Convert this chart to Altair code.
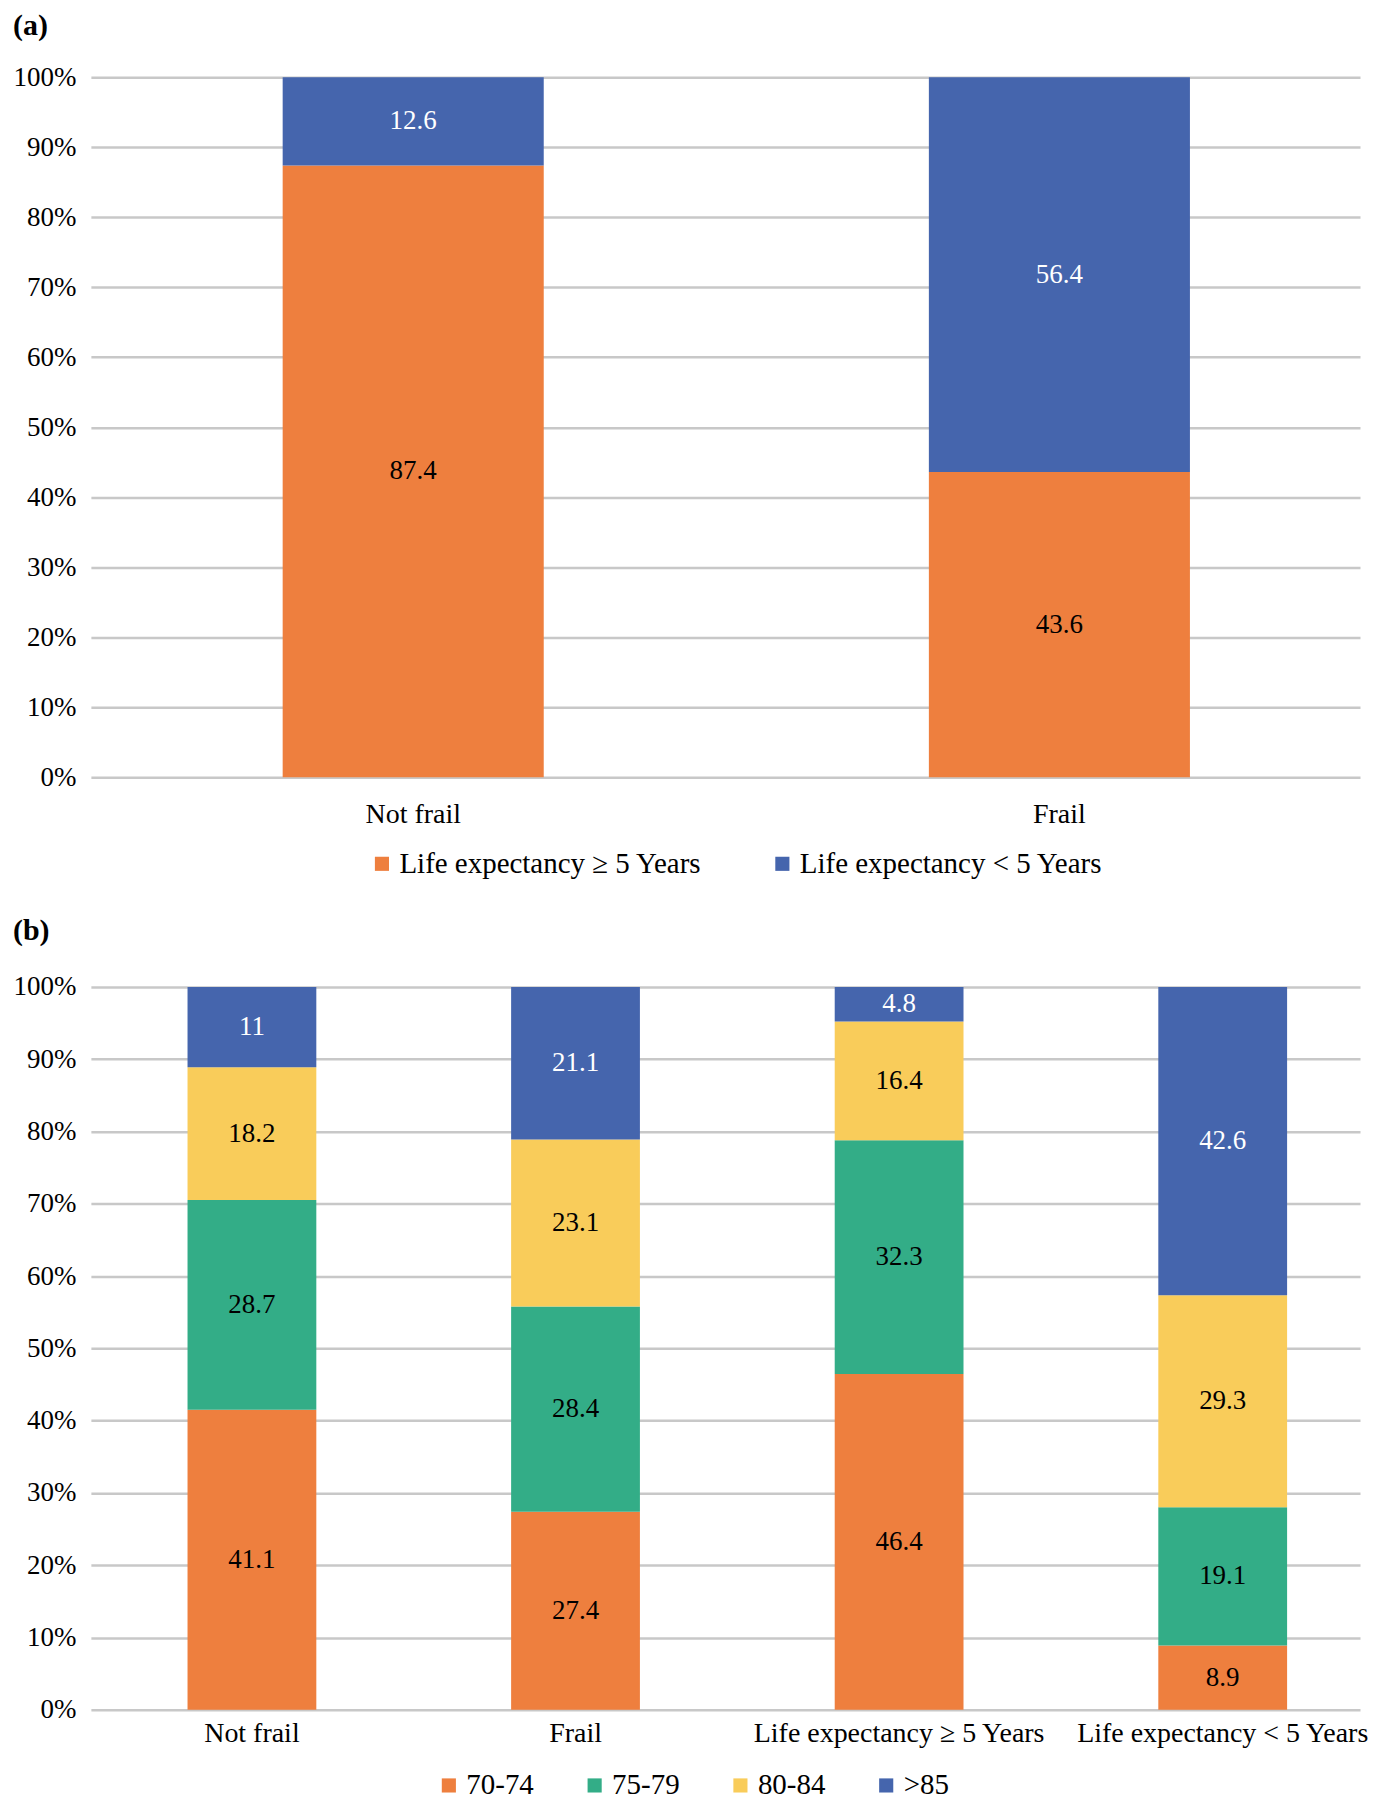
import altair as alt
import pandas as pd

FONT = "Liberation Serif"

# Panel (a)
a_categories = ["Not frail", "Frail"]
a_series = ["Life expectancy \u2265 5 Years", "Life expectancy < 5 Years"]
a_values = {
    "Life expectancy \u2265 5 Years": [87.4, 43.6],
    "Life expectancy < 5 Years": [12.6, 56.4],
}
a_colors = ["#EE7F3E", "#4565AD"]

# Panel (b)
b_categories = ["Not frail", "Frail", "Life expectancy \u2265 5 Years", "Life expectancy < 5 Years"]
b_series = ["70-74", "75-79", "80-84", ">85"]
b_values = {
    "70-74": [41.1, 27.4, 46.4, 8.9],
    "75-79": [28.7, 28.4, 32.3, 19.1],
    "80-84": [18.2, 23.1, 16.4, 29.3],
    ">85": [11, 21.1, 4.8, 42.6],
}
b_colors = ["#EE7F3E", "#33AD87", "#F9CC5A", "#4565AD"]

y_ticks = [i / 10 for i in range(11)]


def make_df(categories, series, values):
    rows = []
    for si, s in enumerate(series):
        for ci, c in enumerate(categories):
            v = values[s][ci]
            rows.append({"cat": c, "series": s, "value": v, "order": si,
                         "label": f"{v:g}"})
    return pd.DataFrame(rows)


def panel(df, categories, series, colors, title, title_offset, width, height, pad_inner,
          pad_outer, align, label_pad, legend_x, legend_y, col_pad, top_series):
    base = alt.Chart(df).transform_stack(
        stack="value", groupby=["cat"], as_=["v0", "v1"], offset="normalize",
        sort=[alt.SortField("order", order="ascending")]
    ).transform_calculate(mid="(datum.v0 + datum.v1) / 2")

    x = alt.X("cat:N", sort=categories, title=None,
              scale=alt.Scale(paddingInner=pad_inner, paddingOuter=pad_outer, align=align),
              axis=alt.Axis(labelAngle=0, domain=False, ticks=False, tickSize=0,
                            labelPadding=label_pad, labelFont=FONT, labelFontSize=28,
                            labelColor="black", grid=False, labelLimit=0,
                            labelOverlap=False))
    bars = base.mark_bar().encode(
        x=x,
        y=alt.Y("v0:Q", title=None, scale=alt.Scale(domain=[0, 1], nice=False),
                axis=alt.Axis(values=y_ticks, format=".0%", grid=True, gridColor="#C8C8C8",
                              gridWidth=2.5, domain=False, ticks=False, tickSize=0,
                              labelPadding=15, labelFont=FONT, labelFontSize=27,
                              labelColor="black")),
        y2="v1:Q",
        color=alt.Color("series:N", sort=series,
                        scale=alt.Scale(domain=series, range=colors),
                        legend=alt.Legend(title=None, orient="none", direction="horizontal",
                                          legendX=legend_x, legendY=legend_y,
                                          symbolType="square", symbolSize=200,
                                          symbolStrokeWidth=0, labelFont=FONT,
                                          labelFontSize=29, labelColor="black",
                                          labelOffset=3, columnPadding=col_pad,
                                          labelLimit=0)),
    )
    text = base.mark_text(font=FONT, fontSize=27).encode(
        x=alt.X("cat:N", sort=categories),
        y=alt.Y("mid:Q"),
        text="label:N",
        color=alt.condition(alt.datum.series == top_series, alt.value("white"), alt.value("black")),
    )
    return alt.layer(bars, text).properties(
        width=width, height=height,
        title=alt.TitleParams(title, anchor="start", frame="bounds", font=FONT,
                              fontSize=30, fontWeight="bold", color="black",
                              offset=title_offset),
    )


dfa = make_df(a_categories, a_series, a_values)
dfb = make_df(b_categories, b_series, b_values)

ca = panel(dfa, a_categories, a_series, a_colors, "(a)", 22, 1271, 701,
           0.596, 0.28, 0.53, 23, 277, 773, 66, "Life expectancy < 5 Years")
cb = panel(dfb, b_categories, b_series, b_colors, "(b)", 27, 1271, 724,
           0.602, 0.262, 0.57, 10, 344, 785, 46, ">85")

chart = alt.vconcat(ca, cb, spacing=37).resolve_scale(color="independent").properties(
    padding={"left": 5, "top": 2, "right": 0, "bottom": 0}
).configure(font=FONT).configure_view(stroke=None)

chart.save("out.html", embed_options={"renderer": "svg", "actions": False})
